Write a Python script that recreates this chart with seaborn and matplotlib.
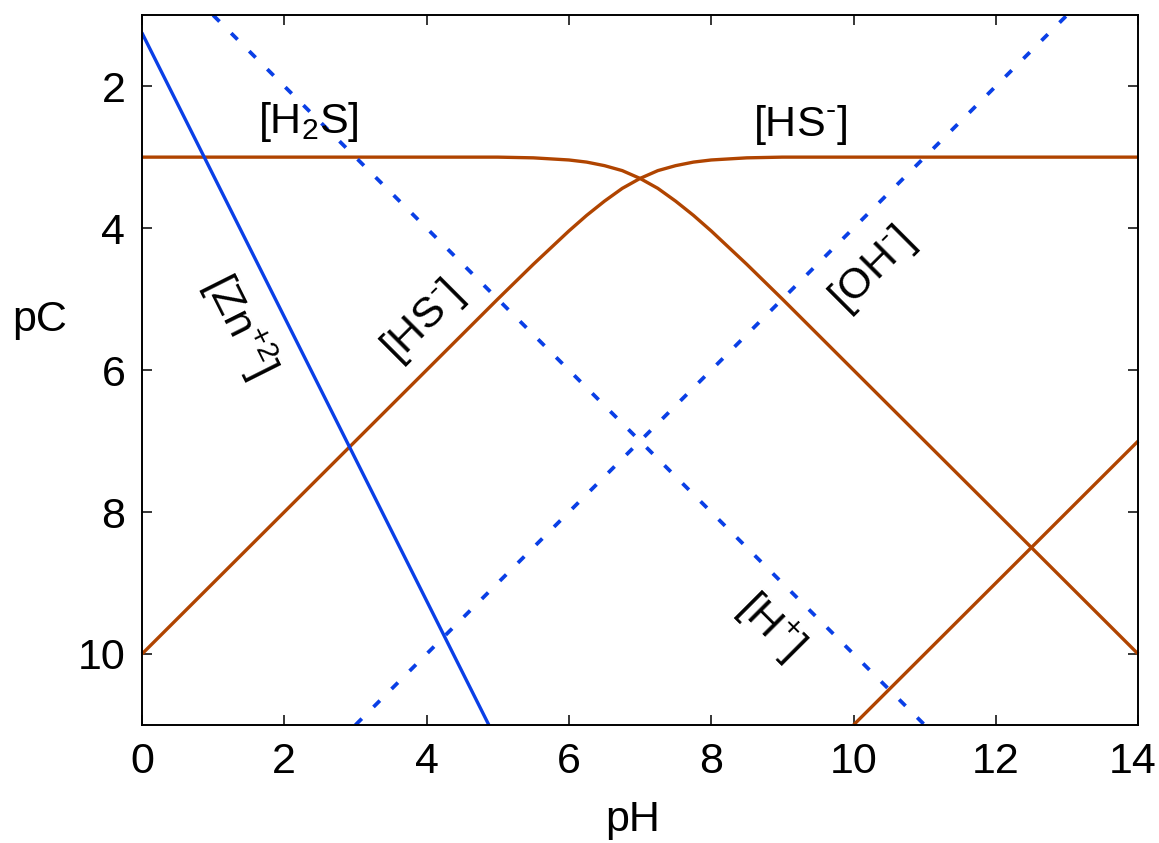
import numpy as np
import pandas as pd
import matplotlib
matplotlib.use("Agg")
import matplotlib.pyplot as plt
import matplotlib.transforms as mtransforms
import seaborn as sns

# values
h2s_ph = [0, 5, 5.5, 6, 6.25, 6.5, 6.75, 7, 7.25, 7.5, 7.75, 8, 8.5, 9, 14]
h2s_pc = [3.0, 3.0, 3.01, 3.04, 3.07, 3.12, 3.19, 3.30, 3.44, 3.62, 3.82,
          4.04, 4.51, 5.0, 10.0]

hs_ph = [0, 5, 5.5, 6, 6.25, 6.5, 6.75, 7, 7.25, 7.5, 7.75, 8, 8.5, 9, 14]
hs_pc = [10.0, 5.0, 4.51, 4.04, 3.82, 3.62, 3.44, 3.30, 3.19, 3.12, 3.07,
         3.04, 3.01, 3.0, 3.0]

s2_ph = [10, 14]
s2_pc = [11.0, 7.0]

zn_ph = [0, 4.875]
zn_pc = [1.25, 11.0]

h_ph = [1, 11]
h_pc = [1, 11]

oh_ph = [3, 13]
oh_pc = [11, 1]

brown = "#b04400"
blue = "#0a3fe6"

sns.set_style("ticks")
plt.rcParams["font.family"] = ["Liberation Sans", "DejaVu Sans"]
plt.rcParams["mathtext.fontset"] = "custom"
plt.rcParams["mathtext.rm"] = "Liberation Sans"
plt.rcParams["mathtext.it"] = "Liberation Sans"
plt.rcParams["text.color"] = "black"
plt.rcParams["xtick.color"] = "black"
plt.rcParams["ytick.color"] = "black"

fig = plt.figure(figsize=(11.59, 8.43), dpi=100)
ax = fig.add_axes([0.1225, 0.140, 0.8595, 0.842])

#brown sulfide species
for xs, ys in [(h2s_ph, h2s_pc), (hs_ph, hs_pc), (s2_ph, s2_pc)]:
    sns.lineplot(x=xs, y=ys, sort=False, color=brown, lw=2.4, ax=ax,
                 clip_on=False, solid_capstyle="butt")

#zinc
sns.lineplot(x=zn_ph, y=zn_pc, sort=False, color=blue, lw=2.4, ax=ax)

#water lines
for xs, ys in [(h_ph, h_pc), (oh_ph, oh_pc)]:
    sns.lineplot(x=xs, y=ys, sort=False, color=blue, lw=2.7, ax=ax,
                 dashes=False, linestyle=(0, (2.4, 4.4)))

ax.set_xlim(0, 14)
ax.set_ylim(11, 1)
ax.set_xticks([0, 2, 4, 6, 8, 10, 12, 14])
ax.set_yticks([2, 4, 6, 8, 10])
ax.tick_params(direction="in", length=7, width=1.1, labelsize=31,
               top=True, right=True, pad=12)
for s in ax.spines.values():
    s.set_linewidth(1.4)
    s.set_color("black")

#nudge the last x label so it stays inside the figure
fig.canvas.draw()
last = ax.get_xticklabels()[-1]
last.set_transform(last.get_transform() +
                   mtransforms.ScaledTranslation(-6 / 100, 0, fig.dpi_scale_trans))

ax.set_xlabel("")
ax.set_ylabel("")
fig.text(633 / 1159, 1 - 820 / 843, "pH", fontsize=31, ha="center", va="center")
fig.text(40 / 1159, 1 - 320 / 843, "pC", fontsize=31, ha="center", va="center")

#species labels
fs = 31
ax.text(2.34, 2.5, r"[H$_2$S]", fontsize=fs, ha="center", va="center")
ax.text(9.25, 2.55, r"[HS$^{\text{-}}$]", fontsize=fs, ha="center", va="center")
ax.text(1.38, 5.37, r"[Zn$^{+2}$]", fontsize=fs, ha="center", va="center",
        rotation=-63.4, rotation_mode="anchor")
ax.text(3.94, 5.32, r"[HS$^{\text{-}}$]", fontsize=fs, ha="center", va="center",
        rotation=45, rotation_mode="anchor")
ax.text(10.27, 4.59, r"[OH$^{\text{-}}$]", fontsize=fs, ha="center", va="center",
        rotation=45, rotation_mode="anchor")
ax.text(8.83, 9.6, r"[H$^{+}$]", fontsize=fs, ha="center", va="center",
        rotation=-45, rotation_mode="anchor")

fig.savefig("out.png", dpi=100)
